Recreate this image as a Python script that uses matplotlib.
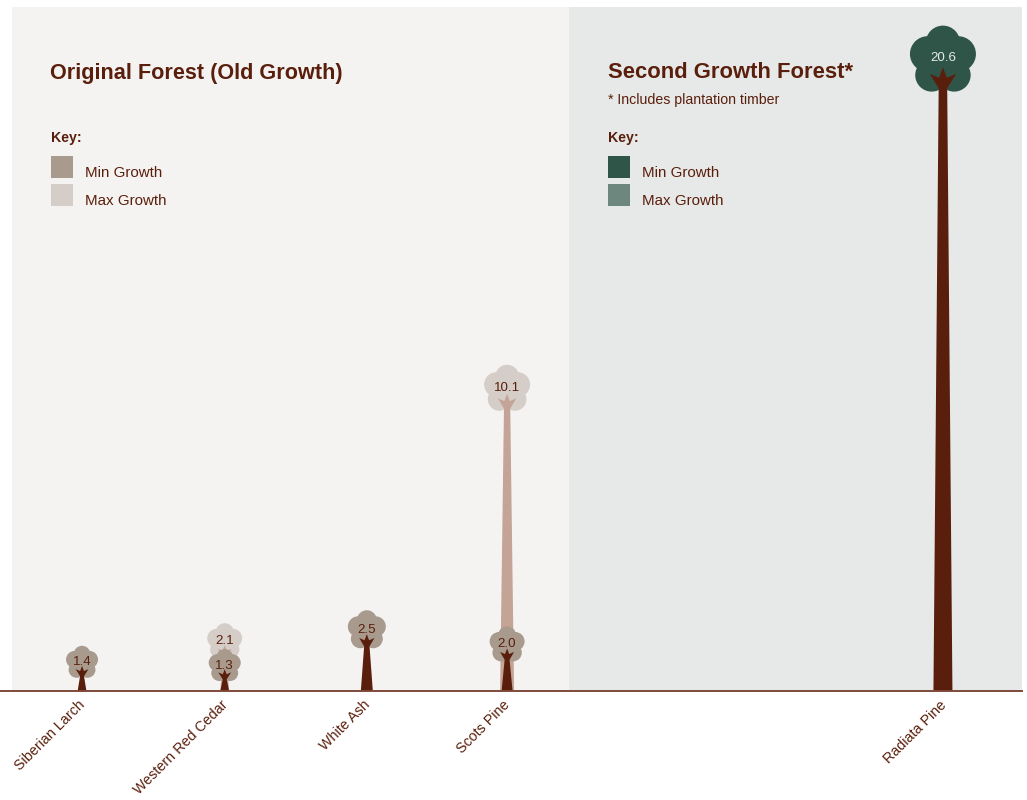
import matplotlib as mpl
mpl.use('Agg')
import matplotlib.pyplot as plt
from matplotlib.patches import Circle, Polygon, Rectangle
from matplotlib.transforms import Affine2D, ScaledTranslation

plt.rcParams['font.family'] = ['Liberation Sans', 'DejaVu Sans']

# data
species = ['Siberian Larch', 'Western Red Cedar', 'White Ash', 'Scots Pine', 'Radiata Pine']
min_growth = [1.4, 1.3, 2.5, 2.0, 20.6]
max_growth = [None, 2.1, None, 10.1, None]
value_labels_min = ['1.4', '1.3', '2.5', '2.0', '20.6']
value_labels_max = [None, '2.1', None, '10.1', None]

# where the trees sit, in category slots
slots = [0, 1.007, 2.01, 3, 6.076]
second_growth_start = 3.437
panel_start = -0.494

# tree sizes in pixels
crown_min = [32, 32, 38, 35, 66]
crown_max = [None, 35, None, 46, None]
trunk_min = [4.4, 4.4, 6, 5.5, 9.5]
trunk_max = [None, 4.4, None, 7, None]

DARK = '#5A1F0C'
OLD_BG = '#F5F3F2'
NEW_BG = '#E7E9E8'
OLD_MIN = '#A89A8D'
OLD_MAX = '#D5CEC8'
OLD_MAX_TRUNK = '#C4A497'
NEW_MIN = '#2F5548'
NEW_MAX = '#6E877E'
W, H = 1027, 800

fig = plt.figure(figsize=(W / 100, H / 100), dpi=100)
ax = fig.add_axes([0, 1 - 691 / H, 1022 / W, 684 / H])
ax.set_xlim(-0.579, 6.634)
ax.set_ylim(0, 684 / 32.3)
ax.set_yticks([])
for side in ['top', 'left', 'right']:
    ax.spines[side].set_visible(False)
ax.spines['bottom'].set_color('#7F4A3A')
ax.spines['bottom'].set_linewidth(1.4)
ax.spines['bottom'].set_zorder(20)
ax.axvspan(panel_start, second_growth_start, color=OLD_BG, lw=0, zorder=0)
ax.axvspan(second_growth_start, 6.634, color=NEW_BG, lw=0, zorder=0)
ax.set_xticks(slots)
ax.set_xticklabels(species, rotation=45, ha='right', va='top', rotation_mode='anchor',
                   fontsize=10.3, color=DARK)
ax.tick_params(axis='x', length=0, pad=5)
for lab in ax.get_xticklabels():
    lab.set_transform(lab.get_transform() + ScaledTranslation(-4 / 100, 0, fig.dpi_scale_trans))

ppu = ax.transData.transform((0, 1))[1] - ax.transData.transform((0, 0))[1]


def draw_tree(slot, value, label, crown_w, base_half, crown_col, trunk_col, text_col, z):
    # local coordinates in pixels, origin at the foot of the tree
    tr = Affine2D() + ScaledTranslation(slot, 0, ax.transData)
    top = value * ppu
    lobes = [(0, -0.26, 0.26), (-0.23, -0.43, 0.27), (0.23, -0.43, 0.27),
             (-0.17, -0.75, 0.25), (0.17, -0.75, 0.25), (0, -0.5, 0.36)]
    for dx, dy, r in lobes:
        ax.add_patch(Circle((dx * crown_w, top + dy * crown_w), r * crown_w,
                            fc=crown_col, ec='none', transform=tr, zorder=z, clip_on=False))
    w = crown_w
    neck = base_half * 0.45
    pts = [(-base_half, 0), (-neck, top - 0.95 * w), (-0.2 * w, top - 0.73 * w),
           (-0.06 * w, top - 0.79 * w), (0, top - 0.63 * w),
           (0.06 * w, top - 0.79 * w), (0.2 * w, top - 0.73 * w),
           (neck, top - 0.95 * w), (base_half, 0)]
    ax.add_patch(Polygon(pts, closed=True, fc=trunk_col, ec='none', transform=tr, zorder=z + 1))
    ax.text(0, top - 0.47 * w - 1.5, label, transform=tr, ha='center', va='center',
            fontsize=9.6, color=text_col, zorder=z + 2)


for i in range(len(species)):
    second = species[i] == 'Radiata Pine'
    if max_growth[i] is not None:
        draw_tree(slots[i], max_growth[i], value_labels_max[i], crown_max[i], trunk_max[i],
                  OLD_MAX, OLD_MAX_TRUNK, DARK, 3)
    draw_tree(slots[i], min_growth[i], value_labels_min[i], crown_min[i], trunk_min[i],
              NEW_MIN if second else OLD_MIN, DARK, NEW_BG if second else DARK, 6)


def ftext(x, y, s, **kw):
    fig.text(x / W, 1 - y / H, s, color=DARK, va='center', ha='left', **kw)


def swatch(x, y, col):
    fig.add_artist(Rectangle((x / W, 1 - (y + 22) / H), 22 / W, 22 / H, fc=col, ec='none',
                             transform=fig.transFigure))


ftext(50, 73, 'Original Forest (Old Growth)', fontsize=15.6, fontweight='bold')
ftext(51, 138, 'Key:', fontsize=10.2, fontweight='bold')
swatch(51, 156, OLD_MIN)
swatch(51, 184, OLD_MAX)
ftext(85, 173, 'Min Growth', fontsize=10.9)
ftext(85, 201, 'Max Growth', fontsize=10.9)

ftext(608, 73, 'Second Growth Forest*', fontsize=15.8, fontweight='bold')
ftext(608, 100, '* Includes plantation timber', fontsize=10.2)
ftext(608, 138, 'Key:', fontsize=10.2, fontweight='bold')
swatch(608, 156, NEW_MIN)
swatch(608, 184, NEW_MAX)
ftext(642, 173, 'Min Growth', fontsize=10.9)
ftext(642, 201, 'Max Growth', fontsize=10.9)

fig.savefig('out.png', dpi=100)
